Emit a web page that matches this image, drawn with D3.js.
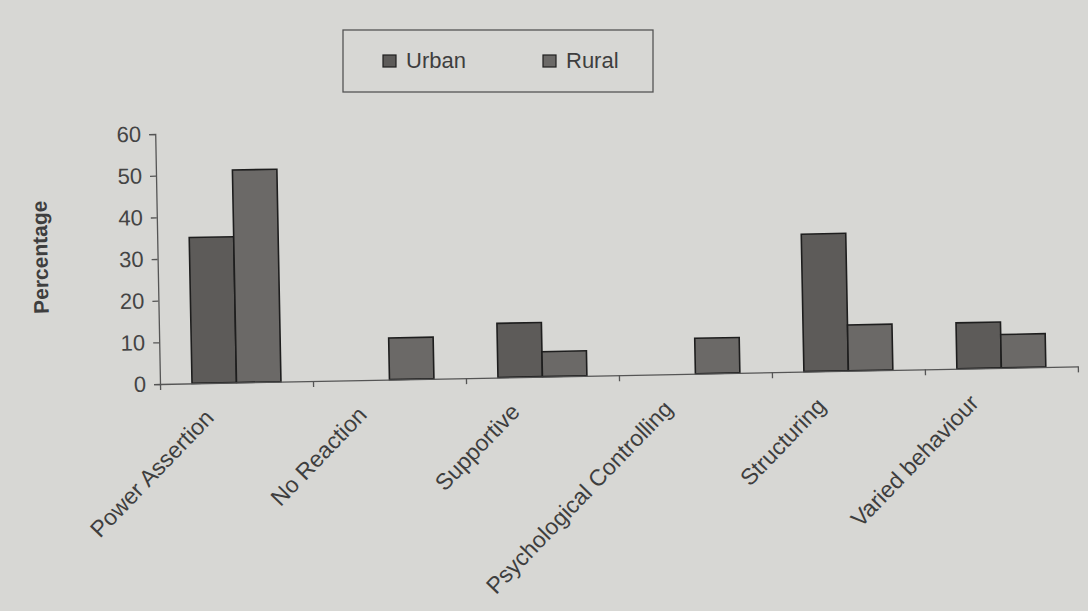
<!DOCTYPE html>
<html>
<head>
<meta charset="utf-8">
<script src="https://cdn.jsdelivr.net/npm/d3@7"></script>
<style>
  body { margin: 0; background: #d7d7d4; }
  text { font-family: "Liberation Sans", Arial, sans-serif; }
</style>
</head>
<body>
<div id="chart"></div>
<script>
// data
const categories = ["Power Assertion", "No Reaction", "Supportive", "Psychological Controlling", "Structuring", "Varied behaviour"]
const seriesNames = ["Urban", "Rural"]
const urbanValues = [35, 0, 13, 0, 33, 11]
const ruralValues = [51, 10, 6, 8.5, 11, 8]
const yTicks = [0, 10, 20, 30, 40, 50, 60]

const colors = {Urban: "#5d5b59", Rural: "#6b6967"}

function drawBarChart() {

  const W = 1088, H = 611
  const margin = {top: 134, left: 160}
  const width = 918
  const height = 250

  const svg = d3.select("#chart")
    .append("svg")
    .attr("width", W)
    .attr("height", H)

  svg.append("rect")
    .attr("width", W)
    .attr("height", H)
    .attr("fill", "#d7d7d4")

  // the photographed page is a little tilted
  const g = svg.append("g")
    .attr("transform", `rotate(-1.1, ${margin.left}, ${margin.top + height}) translate(${margin.left}, ${margin.top})`)

  const data = categories.map((c, i) => ({category: c, Urban: urbanValues[i], Rural: ruralValues[i]}))

  // scales
  const xScale = d3.scaleBand()
    .domain(categories)
    .range([0, width])
    .padding(0)

  const xSub = d3.scaleBand()
    .domain(seriesNames)
    .range([0, xScale.bandwidth()])
    .paddingInner(0)
    .paddingOuter(0.72)

  const yScale = d3.scaleLinear()
    .domain([0, 60])
    .range([height, 0])

  // bars
  g.selectAll(".cat")
    .data(data)
    .join("g")
    .attr("class", "cat")
    .attr("transform", d => `translate(${xScale(d.category)}, 0)`)
    .selectAll("rect")
    .data(d => seriesNames.map(s => ({series: s, value: d[s]})).filter(d => d.value > 0))
    .join("rect")
    .attr("x", d => xSub(d.series))
    .attr("width", xSub.bandwidth())
    .attr("y", d => yScale(d.value))
    .attr("height", d => height - yScale(d.value))
    .attr("fill", d => colors[d.series])
    .attr("stroke", "#1e1e1e")
    .attr("stroke-width", 1.6)

  // y axis
  const yAxis = d3.axisLeft(yScale)
    .tickValues(yTicks)
    .tickSize(6)
    .tickPadding(8)

  const yg = g.append("g").call(yAxis)
  yg.select(".domain").attr("stroke", "#555").attr("stroke-width", 1.3)
  yg.selectAll(".tick line").attr("stroke", "#555").attr("stroke-width", 1.3)
  yg.selectAll(".tick text")
    .attr("font-size", "22px")
    .attr("fill", "#444")
    .attr("font-family", "'Liberation Sans', Arial, sans-serif")

  // x axis: ticks on category boundaries
  const boundary = d3.scaleLinear().domain([0, categories.length]).range([0, width])
  const xAxis = d3.axisBottom(boundary)
    .ticks(categories.length)
    .tickSize(6)
    .tickSizeOuter(0)
    .tickFormat("")

  const xg = g.append("g")
    .attr("transform", `translate(0, ${height})`)
    .call(xAxis)
  xg.select(".domain").attr("stroke", "#555").attr("stroke-width", 1.3)
  xg.selectAll(".tick line").attr("stroke", "#555").attr("stroke-width", 1.3)

  // category labels, slanted
  g.selectAll(".xlabel")
    .data(categories)
    .join("text")
    .attr("class", "xlabel")
    .attr("transform", d => `translate(${xScale(d) + xScale.bandwidth() / 2 - 22}, ${height + 36}) rotate(-45)`)
    .attr("text-anchor", "end")
    .attr("font-size", "23px")
    .attr("fill", "#3e3e3e")
    .text(d => d)

  // y title
  g.append("text")
    .attr("transform", `translate(${-110}, ${height / 2 - 4}) rotate(-90)`)
    .attr("text-anchor", "middle")
    .attr("font-size", "21px")
    .attr("font-weight", "bold")
    .attr("fill", "#3e3e3e")
    .text("Percentage")

  // legend
  const legend = svg.append("g")
  legend.append("rect")
    .attr("x", 343)
    .attr("y", 30)
    .attr("width", 310)
    .attr("height", 62)
    .attr("fill", "none")
    .attr("stroke", "#555")
    .attr("stroke-width", 1.3)

  const legendX = d3.scaleOrdinal().domain(seriesNames).range([383, 543])
  const items = legend.selectAll(".item")
    .data(seriesNames)
    .join("g")
    .attr("class", "item")
    .attr("transform", d => `translate(${legendX(d)}, 55)`)

  items.append("rect")
    .attr("width", 13)
    .attr("height", 12)
    .attr("fill", d => colors[d])
    .attr("stroke", "#1e1e1e")
    .attr("stroke-width", 1.2)

  items.append("text")
    .attr("x", 23)
    .attr("y", 13)
    .attr("font-size", "22px")
    .attr("fill", "#3e3e3e")
    .text(d => d)
}

drawBarChart()
</script>
</body>
</html>
